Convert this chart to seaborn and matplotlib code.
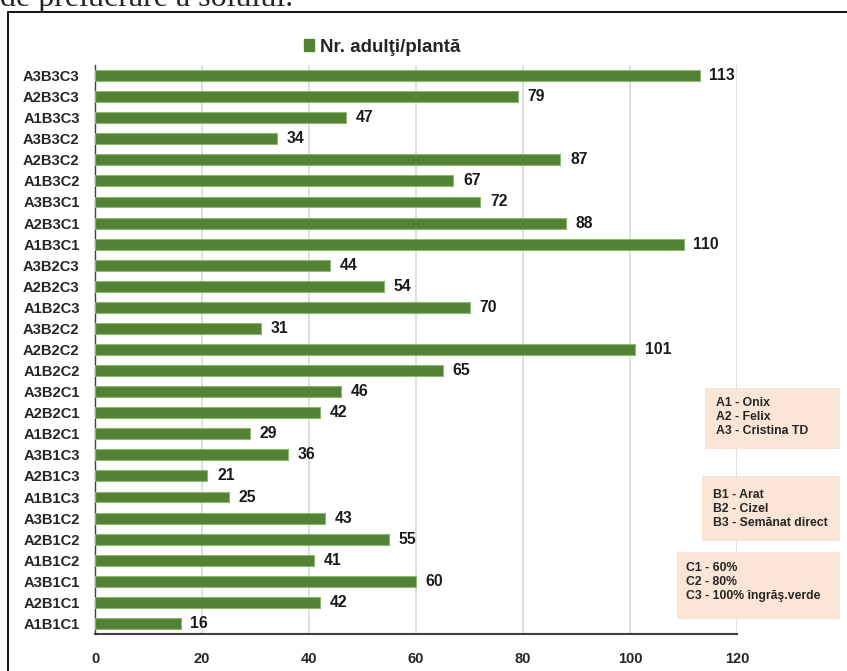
import matplotlib
matplotlib.use("Agg")
import matplotlib.pyplot as plt
from matplotlib.patches import Rectangle, Patch
import seaborn as sns
import pandas as pd

# Variants (A = soi, B = lucrare sol, C = fertilizare), listed top to bottom
variants = [
    "A3B3C3", "A2B3C3", "A1B3C3", "A3B3C2", "A2B3C2", "A1B3C2",
    "A3B3C1", "A2B3C1", "A1B3C1", "A3B2C3", "A2B2C3", "A1B2C3",
    "A3B2C2", "A2B2C2", "A1B2C2", "A3B2C1", "A2B2C1", "A1B2C1",
    "A3B1C3", "A2B1C3", "A1B1C3", "A3B1C2", "A2B1C2", "A1B1C2",
    "A3B1C1", "A2B1C1", "A1B1C1",
]
adults_per_plant = [
    113, 79, 47, 34, 87, 67,
    72, 88, 110, 44, 54, 70,
    31, 101, 65, 46, 42, 29,
    36, 21, 25, 43, 55, 41,
    60, 42, 16,
]
x_ticks = [0, 20, 40, 60, 80, 100, 120]
series_name = "Nr. adulţi/plantă"

notes_a = ["A1 - Onix", "A2 - Felix", "A3 - Cristina TD"]
notes_b = ["B1 - Arat", "B2 - Cizel", "B3 - Semănat direct"]
notes_c = ["C1 - 60%", "C2 - 80%", "C3 - 100% îngrăş.verde"]

df = pd.DataFrame({"variant": variants, "value": adults_per_plant})

sns.set_style("white")
plt.rcParams["font.family"] = ["Liberation Sans", "DejaVu Sans"]

W, H = 847, 671
fig = plt.figure(figsize=(W / 100, H / 100), dpi=100)
ax = fig.add_axes([95 / W, 1 - 634 / H, (737 - 95) / W, (634 - 65) / H])

green = "#548235"
sns.barplot(data=df, x="value", y="variant", order=variants, color=green,
            saturation=1, width=0.52, orient="h", ax=ax,
            edgecolor="#8DB870", linewidth=0.8, zorder=3)

ax.set_xlim(0, 120)
ax.set_ylim(len(variants) - 0.5, -0.5)
ax.set_xticks(x_ticks)
ax.set_xticklabels([str(t) for t in x_ticks], fontsize=10.5, fontweight="bold")
ax.set_yticks(range(len(variants)))
ax.set_yticklabels(variants, fontsize=10.6, fontweight="bold")
ax.tick_params(axis="x", length=0, pad=13)
ax.tick_params(axis="y", length=0, pad=11)
ax.set_xlabel("")
ax.set_ylabel("")

ax.grid(axis="x", color="#D9D9D9", linewidth=1.2, zorder=0)
ax.grid(axis="y", visible=False)
for side in ["top", "right"]:
    ax.spines[side].set_visible(False)
ax.spines["left"].set_color("#404040")
ax.spines["bottom"].set_color("#404040")
ax.spines["left"].set_linewidth(1.0)
ax.spines["bottom"].set_linewidth(1.5)

for bar, v in zip(ax.patches, adults_per_plant):
    y = bar.get_y() + bar.get_height() / 2
    ax.annotate(str(v), (v, y), xytext=(7, 0), textcoords="offset points",
                ha="left", va="center", fontsize=11.3, fontweight="bold",
                color="#1a1a1a")

# Series legend
fig.legend(handles=[Patch(color=green, label=series_name)],
           loc="center left", bbox_to_anchor=(291 / W, 1 - 47 / H),
           frameon=False, handlelength=0.55, handleheight=0.55,
           handletextpad=0.3, borderpad=0.2,
           prop={"weight": "bold", "size": 13.5})

# Outer frame
fig.add_artist(Rectangle((8 / W, -0.05), 1.0, 1 - 12 / H + 0.05,
                         transform=fig.transFigure, fill=False,
                         edgecolor="black", linewidth=1.3))

# Caption line above the frame
fig.text(0.0, 1 - 6 / H, "de prelucrare a solului.", fontsize=23,
         family="Liberation Serif", ha="left", va="baseline")

# Factor explanation boxes
peach = "#FBE5D6"
boxes = [
    ((705, 388, 840, 449), (716, 403), notes_a),
    ((702, 476, 840, 541), (713, 495), notes_b),
    ((677, 552, 840, 619), (686, 568), notes_c),
]
for (x0, y0, x1, y1), (tx, ty), lines in boxes:
    fig.add_artist(Rectangle((x0 / W, 1 - y1 / H), (x1 - x0) / W, (y1 - y0) / H,
                             transform=fig.transFigure, facecolor=peach,
                             edgecolor="none", zorder=5))
    for i, line in enumerate(lines):
        fig.text(tx / W, 1 - (ty + i * 14) / H, line, fontsize=8.8,
                 fontweight="bold", ha="left", va="center", zorder=6)

fig.savefig("out.png", dpi=100)
